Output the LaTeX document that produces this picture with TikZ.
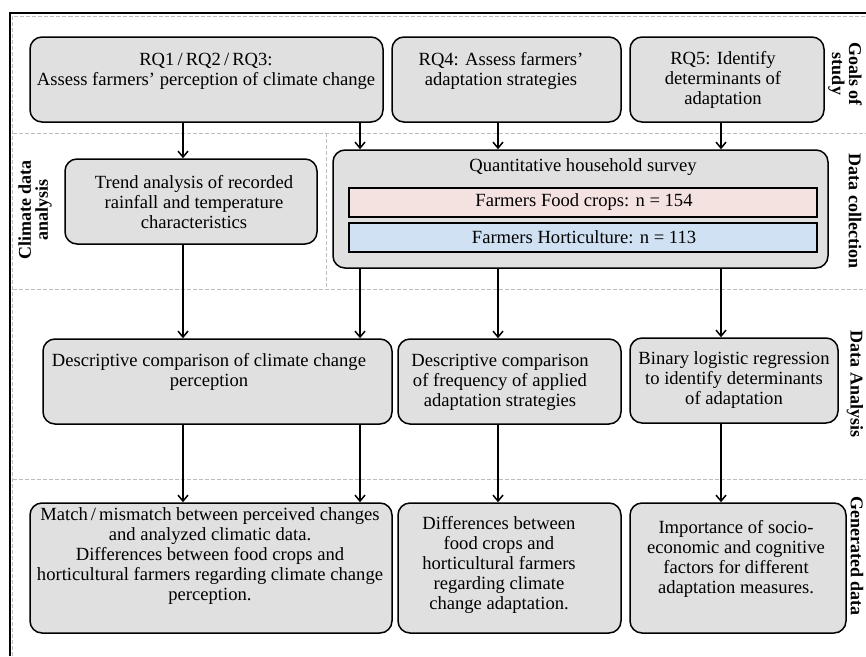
\documentclass[tikz,border=0pt]{standalone}
\usepackage{fontspec}
\setmainfont{Liberation Serif}
\usetikzlibrary{arrows.meta}
\definecolor{boxgray}{HTML}{E0E0E0}
\definecolor{pinkfill}{HTML}{F4E2E1}
\definecolor{bluefill}{HTML}{CFE1F2}
\definecolor{dashgray}{HTML}{BDBDBD}
\tikzset{
  box/.style={draw, line width=1.5pt, rounded corners=12pt, fill=boxgray, inner sep=0pt},
  subbox/.style={draw, line width=1.5pt, inner sep=0pt},
  txt/.style={align=center, inner sep=0pt, font=\fontsize{18.6}{20}\selectfont},
  lbl/.style={align=center, inner sep=0pt, font=\fontsize{18}{17}\selectfont\bfseries},
  arr/.style={line width=1.5pt, -{Straight Barb[length=6pt,width=10pt]}},
  sep/.style={dashgray, line width=1pt, dash pattern=on 4pt off 2pt},
}
\begin{document}
\begin{tikzpicture}[x=1pt,y=-1pt]
\useasboundingbox (0,0) rectangle (866,656);
% frame
\draw[sep] (12.5,656) -- (12.5,16) -- (866,16);
\draw[sep] (12.5,133) -- (866,133);
\draw[sep] (12.5,289) -- (866,289);
\draw[sep] (12.5,479) -- (866,479);
\draw[sep] (326,133) -- (326,289);
\draw[line width=1.5pt] (10,656) -- (10,13) -- (866,13);
% column coordinates
\coordinate (c1) at (183,0);
\coordinate (c2) at (360,0);
\coordinate (c3) at (498,0);
\coordinate (c4) at (721,0);
% goals
\node[box, minimum width=353pt, minimum height=85pt] (rq1) at (206.5,79.5) {};
\node[box, minimum width=229pt, minimum height=85pt] (rq4) at (506.5,79.5) {};
\node[box, minimum width=194pt, minimum height=85pt] (rq5) at (727,79.5) {};
\node[txt] (trq1) at (206,71) {RQ1\,/\,RQ2\,/\,RQ3:\\Assess farmers’ perception of climate change};
\node[txt] (trq4) at (501,71) {RQ4: Assess farmers’\\adaptation strategies};
\node[txt] (trq5) at (723,80) {RQ5: Identify\\determinants of\\adaptation};
% data collection
\node[box, minimum width=252pt, minimum height=85pt] (trend) at (191,201.5) {};
\node[txt] (ttrend) at (194,202) {Trend analysis of recorded\\rainfall and temperature\\characteristics};
\node[box, minimum width=495pt, minimum height=118pt] (survey) at (580.5,209) {};
\node[txt] (tsurvey) at (583,167) {Quantitative household survey};
\node[subbox, fill=pinkfill, minimum width=468pt, minimum height=29pt] (food) at (583,202.5) {};
\node[txt] (tfood) at (584,202) {Farmers Food crops: n = 154};
\node[subbox, fill=bluefill, minimum width=468pt, minimum height=29pt] (hort) at (583,237.5) {};
\node[txt] (thort) at (584,237) {Farmers Horticulture: n = 113};
% data analysis
\node[box, minimum width=349pt, minimum height=85pt] (desc1) at (217.5,381.5) {};
\node[box, minimum width=223pt, minimum height=85pt] (desc2) at (509.5,381.5) {};
\node[box, minimum width=208pt, minimum height=85pt] (desc3) at (734,380.5) {};
\node[txt] (tdesc1) at (209,372) {Descriptive comparison of climate change\\perception};
\node[txt] (tdesc2) at (500,382) {Descriptive comparison\\of frequency of applied\\adaptation strategies};
\node[txt] (tdesc3) at (734,380) {Binary logistic regression\\to identify determinants\\of adaptation};
% generated data
\node[box, minimum width=362pt, minimum height=130pt] (gen1) at (211,568) {};
\node[box, minimum width=223pt, minimum height=130pt] (gen2) at (509.5,568) {};
\node[box, minimum width=216pt, minimum height=130pt] (gen3) at (738,568) {};
\node[txt] (tgen1) at (210,556) {Match\,/\,mismatch between perceived changes\\and analyzed climatic data.\\Differences between food crops and\\horticultural farmers regarding climate change\\perception.};
\node[txt] (tgen2) at (499,565) {Differences between\\food crops and\\horticultural farmers\\regarding climate\\change adaptation.};
\node[txt] (tgen3) at (736,559) {Importance of socio-\\economic and cognitive\\factors for different\\adaptation measures.};
% side labels
\node[lbl, rotate=-90] (lgoals) at (845,74) {Goals of\\study};
\node[lbl, rotate=90] (lclim) at (35,210) {Climate data\\analysis};
\node[lbl, rotate=-90] (lcoll) at (855,211) {Data collection};
\node[lbl, rotate=-90] (lana) at (855,384) {Data Analysis};
\node[lbl, rotate=-90] (lgen) at (857,556) {Generated data};
% arrows
\draw[arr] (rq1.south -| c1) -- (trend.north -| c1);
\draw[arr] (rq1.south -| c2) -- (survey.north -| c2);
\draw[arr] (rq4.south -| c3) -- (survey.north -| c3);
\draw[arr] (rq5.south -| c4) -- (survey.north -| c4);
\draw[arr] (trend.south -| c1) -- (desc1.north -| c1);
\draw[arr] (survey.south -| c2) -- (desc1.north -| c2);
\draw[arr] (survey.south -| c3) -- (desc2.north -| c3);
\draw[arr] (survey.south -| c4) -- (desc3.north -| c4);
\draw[arr] (desc1.south -| c1) -- (gen1.north -| c1);
\draw[arr] (desc1.south -| c2) -- (gen1.north -| c2);
\draw[arr] (desc2.south -| c3) -- (gen2.north -| c3);
\draw[arr] (desc3.south -| c4) -- (gen3.north -| c4);
\end{tikzpicture}
\end{document}
